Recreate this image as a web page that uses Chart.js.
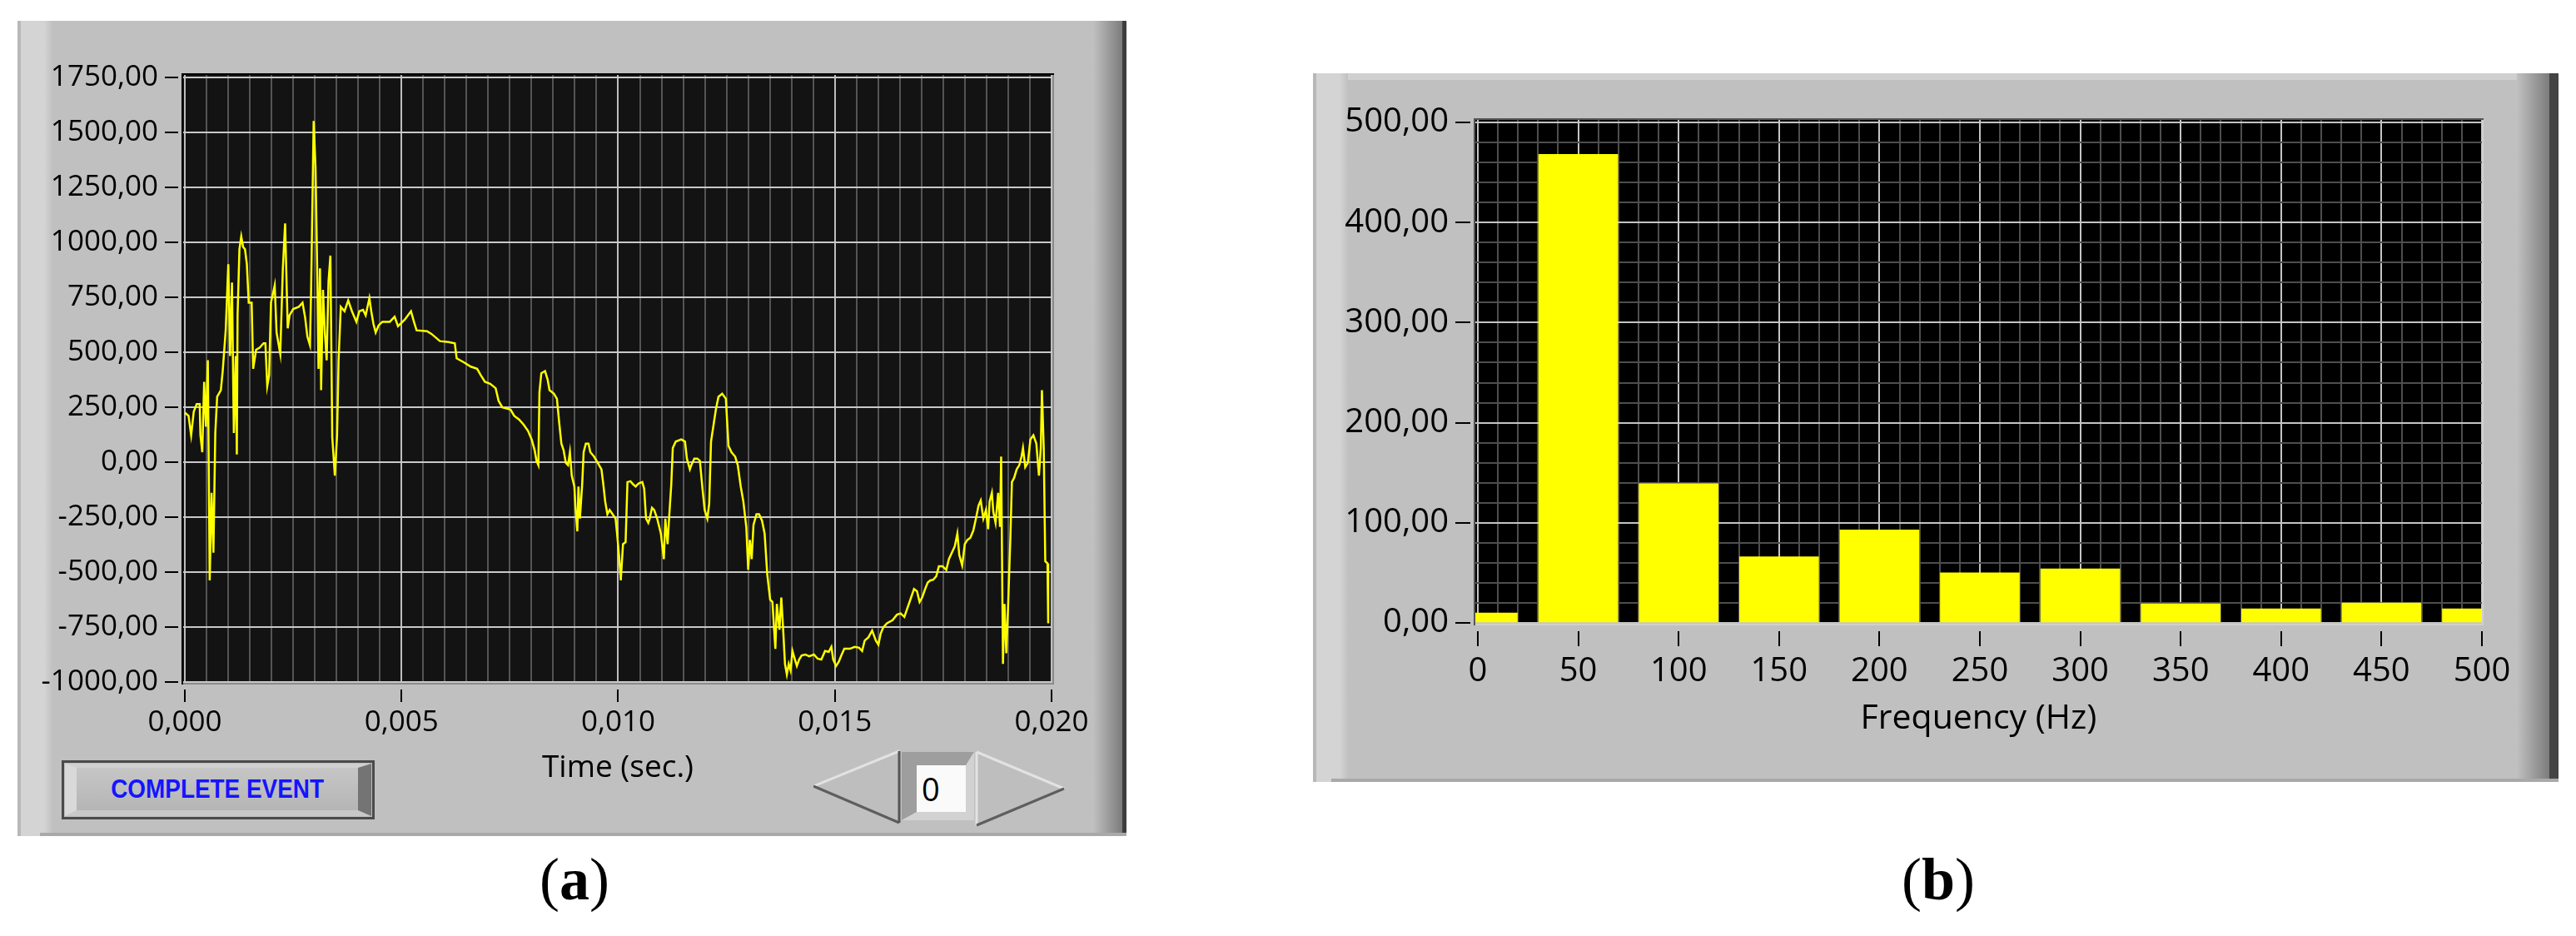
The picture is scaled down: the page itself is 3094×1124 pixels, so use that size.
<!DOCTYPE html>
<html>
<head>
<meta charset="utf-8">
<title>Event waveform and spectrum</title>
<script src="https://cdn.jsdelivr.net/npm/chart.js@4.4.1/dist/chart.umd.min.js"></script>
<style>
  html, body { margin: 0; padding: 0; background: #fff; }
  body { position: relative; width: 3094px; height: 1124px; overflow: hidden; font-family: "Open Sans", sans-serif; }
  .panel { position: absolute; background: #c0c0c0; }
  .panel canvas { position: absolute; left: 0; top: 0; }
  .bevel-l { position: absolute; left: 0; top: 0; bottom: 0; width: 42px;
    background: linear-gradient(to right, #b8b8b8 0, #b8b8b8 4px, #d4d4d4 4px, #d4d4d4 32px, #c1c1c1 42px); }
  .bevel-b { position: absolute; right: 0; bottom: 0; height: 4px; background: #a9a9a9; }
  .bevel-t { position: absolute; left: 0; top: 0; height: 8px; background: #d0d0d0; }
  #panelA .bevel-r { position: absolute; right: 0; top: 0; bottom: 0; width: 40px;
    background: linear-gradient(to right, #c0c0c0 0, #7c7c7c 35px, #3e3e3e 35px, #3e3e3e 40px); }
  #panelB .bevel-r { position: absolute; right: 0; top: 0; bottom: 0; width: 50px;
    background: linear-gradient(to right, #c0c0c0 0, #7c7c7c 39px, #444 39px, #444 50px); }
  .button { position: absolute; left: 53px; top: 888px; width: 376px; height: 71px; box-sizing: border-box;
    border: 3px solid #4a4a4a; background: #bdbdbd; }
  .button .face { position: absolute; left: 1px; top: 1px; right: 1px; bottom: 1px;
    border-style: solid; border-width: 5px 16px 7px 14px; border-color: #d0d0d0 #747474 #c8c8c8 #d9d9d9;
    background: linear-gradient(#c6c6c6, #b5b5b5); display: flex; align-items: center; justify-content: center; }
  .button span { color: #1414ff; font-family: "Liberation Sans", sans-serif; font-weight: bold; font-size: 31px;
    transform: scaleX(0.9); white-space: nowrap; }
  .stepper { position: absolute; left: 956px; top: 875px; }
  .caption { position: absolute; top: 1020px; font-family: "Liberation Serif", "Times New Roman", serif;
    font-size: 72px; line-height: 1; transform: translateX(-50%); white-space: nowrap; color: #000; }
</style>
</head>
<body>

<div class="panel" id="panelA" style="left:21px;top:25px;width:1332px;height:979px">
  <div class="bevel-l"></div>
  <div class="bevel-r"></div>
  <div class="bevel-b" style="left:27px"></div>
  <canvas id="timeChart" width="1332" height="979"></canvas>
  <div class="button"><div class="face"><span>COMPLETE EVENT</span></div></div>
  <svg class="stepper" width="305" height="95" viewBox="0 0 305 95">
    <polygon points="0,44 103,2 103,88" fill="#bebebe"/>
    <polyline points="0,44 103,2" fill="none" stroke="#e2e2e2" stroke-width="3"/>
    <polyline points="0,44 103,88" fill="none" stroke="#5e5e5e" stroke-width="3"/>
    <line x1="103" y1="2" x2="103" y2="88" stroke="#555" stroke-width="3"/>
    <rect x="106" y="3" width="87" height="82" fill="#b6b6b6"/>
    <polygon points="106,3 193,3 183,19 124,19 124,75 106,85" fill="#9e9e9e"/>
    <polygon points="193,3 193,85 106,85 124,75 183,75 183,19" fill="#d2d2d2"/>
    <rect x="124" y="19" width="59" height="56" fill="#fafafa"/>
    <text x="130" y="62" font-family="Open Sans, sans-serif" font-size="38" fill="#000">0</text>
    <polygon points="196,3 196,91 301,47" fill="#bebebe"/>
    <line x1="196" y1="3" x2="196" y2="91" stroke="#e2e2e2" stroke-width="3"/>
    <polyline points="196,3 301,47" fill="none" stroke="#e2e2e2" stroke-width="3"/>
    <polyline points="196,91 301,47" fill="none" stroke="#5e5e5e" stroke-width="3"/>
  </svg>
</div>

<div class="panel" id="panelB" style="left:1577px;top:88px;width:1496px;height:851px">
  <div class="bevel-t" style="width:1466px"></div>
  <div class="bevel-l"></div>
  <div class="bevel-r"></div>
  <div class="bevel-b" style="left:22px"></div>
  <canvas id="freqChart" width="1496" height="851"></canvas>
</div>

<div class="caption" style="left:690px">(<b>a</b>)</div>
<div class="caption" style="left:2328px">(<b>b</b>)</div>

<script>
// (a) recorded event: sample time in ms, amplitude
const timeMs = [
  0.000, 0.086, 0.146, 0.206, 0.274, 0.343, 0.360, 0.403, 0.446, 0.488,
  0.531, 0.574, 0.617, 0.660, 0.703, 0.746, 0.831, 0.874, 0.943, 1.003,
  1.045, 1.088, 1.131, 1.174, 1.200, 1.217, 1.260, 1.302, 1.345, 1.388,
  1.431, 1.474, 1.542, 1.577, 1.645, 1.731, 1.817, 1.859, 1.902, 1.945,
  1.988, 2.074, 2.117, 2.202, 2.262, 2.314, 2.374, 2.416, 2.502, 2.631,
  2.716, 2.776, 2.828, 2.888, 2.913, 2.973, 3.016, 3.059, 3.085, 3.119,
  3.145, 3.188, 3.231, 3.273, 3.316, 3.359, 3.402, 3.462, 3.513, 3.548,
  3.599, 3.685, 3.770, 3.856, 3.959, 4.027, 4.113, 4.173, 4.259, 4.302,
  4.353, 4.404, 4.473, 4.559, 4.730, 4.841, 4.919, 5.073, 5.219, 5.287,
  5.347, 5.587, 5.690, 5.887, 6.084, 6.230, 6.272, 6.444, 6.598, 6.744,
  6.830, 6.924, 7.044, 7.172, 7.241, 7.326, 7.515, 7.601, 7.712, 7.815,
  7.918, 8.003, 8.072, 8.115, 8.158, 8.183, 8.226, 8.312, 8.372, 8.415,
  8.518, 8.586, 8.638, 8.689, 8.740, 8.792, 8.843, 8.886, 8.929, 8.989,
  9.015, 9.057, 9.083, 9.117, 9.169, 9.203, 9.254, 9.314, 9.357, 9.443,
  9.529, 9.614, 9.657, 9.700, 9.751, 9.803, 9.871, 9.940, 9.974, 10.026,
  10.060, 10.111, 10.171, 10.214, 10.283, 10.343, 10.403, 10.471, 10.557, 10.600,
  10.643, 10.694, 10.728, 10.780, 10.831, 10.900, 10.985, 11.054, 11.088, 11.140,
  11.174, 11.225, 11.260, 11.328, 11.457, 11.542, 11.585, 11.654, 11.688, 11.757,
  11.825, 11.885, 11.945, 11.996, 12.057, 12.100, 12.142, 12.202, 12.254, 12.314,
  12.399, 12.485, 12.545, 12.614, 12.699, 12.759, 12.828, 12.888, 12.956, 13.000,
  13.037, 13.080, 13.122, 13.191, 13.251, 13.319, 13.379, 13.439, 13.507, 13.559,
  13.593, 13.627, 13.661, 13.721, 13.764, 13.807, 13.849, 13.892, 13.935, 13.978,
  14.021, 14.063, 14.123, 14.175, 14.234, 14.320, 14.405, 14.517, 14.602, 14.688,
  14.773, 14.859, 14.919, 14.962, 15.030, 15.090, 15.150, 15.218, 15.346, 15.458,
  15.560, 15.629, 15.689, 15.774, 15.860, 15.945, 16.005, 16.056, 16.116, 16.202,
  16.330, 16.433, 16.518, 16.604, 16.672, 16.741, 16.826, 16.895, 16.955, 17.014,
  17.083, 17.143, 17.203, 17.271, 17.340, 17.400, 17.485, 17.571, 17.631, 17.699,
  17.767, 17.827, 17.870, 17.938, 17.998, 18.058, 18.127, 18.195, 18.255, 18.315,
  18.366, 18.426, 18.486, 18.537, 18.571, 18.623, 18.657, 18.708, 18.768, 18.811,
  18.837, 18.879, 18.914, 18.956, 18.999, 19.050, 19.085, 19.136, 19.196, 19.256,
  19.307, 19.341, 19.393, 19.453, 19.512, 19.581, 19.649, 19.709, 19.752, 19.778,
  19.820, 19.855, 19.906, 19.923
];
const amplitude = [
  225, 210, 122, 229, 264, 264, 122, 45, 365, 161,
  463, -538, -140, -412, 132, 297, 327, 414, 599, 900,
  482, 816, 132, 482, 35, 667, 968, 1026, 978, 968,
  900, 725, 725, 424, 511, 521, 540, 540, 346, 395,
  725, 803, 589, 492, 881, 1085, 608, 667, 696, 706,
  725, 657, 570, 531, 774, 1551, 1337, 822, 424, 881,
  327, 783, 589, 463, 822, 939, 113, -62, 122, 463,
  706, 686, 735, 686, 638, 686, 692, 667, 745, 686,
  628, 589, 622, 638, 638, 661, 618, 647, 686, 638,
  599, 595, 583, 550, 546, 540, 472, 453, 434, 424,
  395, 365, 356, 336, 278, 249, 239, 210, 194, 171,
  142, 103, 54, 6, -14, 317, 404, 414, 375, 327,
  311, 288, 181, 84, 54, -4, -14, 45, -62, -111,
  -208, -315, -111, -257, -101, 45, 84, 84, 45, 25,
  -4, -33, -101, -179, -237, -218, -237, -257, -325, -441,
  -538, -373, -364, -91, -87, -101, -111, -97, -91, -121,
  -257, -276, -257, -208, -218, -257, -325, -441, -257, -373,
  -257, -101, 64, 93, 103, 93, 16, -33, -14, 16,
  16, 6, -121, -218, -257, -189, 93, 171, 239, 297,
  311, 288, 74, 45, 25, -14, -111, -179, -295, -490,
  -354, -441, -286, -237, -237, -266, -325, -509, -626, -636,
  -743, -849, -645, -762, -616, -762, -918, -966, -918, -947,
  -859, -888, -927, -898, -879, -875, -883, -875, -894, -898,
  -859, -863, -840, -898, -927, -908, -879, -849, -849, -840,
  -844, -859, -811, -797, -766, -811, -830, -781, -752, -733,
  -719, -694, -688, -704, -665, -626, -577, -587, -636, -616,
  -577, -548, -538, -535, -519, -474, -474, -490, -441, -412,
  -383, -325, -422, -470, -373, -354, -344, -311, -257, -198,
  -175, -257, -218, -305, -179, -140, -227, -276, -140, -295,
  25, -918, -645, -869, -645, -344, -91, -72, -33, -14,
  25, 64, -23, -4, 103, 122, 84, -62, 64, 327,
  64, -451, -461, -733
];

// (b) spectrum
const freqHz = [0, 50, 100, 150, 200, 250, 300, 350, 400, 450, 500];
const magnitude = [10, 468, 139, 66, 93, 50, 54, 19, 14, 20, 14];

// labelled ticks and the finer grid step of each axis
const timeTicks = [0, 0.005, 0.010, 0.015, 0.020];
const ampTicks = [-1000, -750, -500, -250, 0, 250, 500, 750, 1000, 1250, 1500, 1750];
const freqTicks = [0, 50, 100, 150, 200, 250, 300, 350, 400, 450, 500];
const magTicks = [0, 100, 200, 300, 400, 500];
const timeMinor = 0.0005, freqMinor = 10, magMinor = 20;

// axis ranges, padded a little past the outer ticks like the LabVIEW frame
const timeRange = [-0.0000768, 0.0200576];
const ampRange = [-1011.4, 1767.8];
const freqRange = [-2.07, 500.83];
const magRange = [-2.49, 504.15];

const comma = (v, d) => v.toFixed(d).replace('.', ',');
const isLabelled = (v, list) => list.some(t => Math.abs(t - v) < 1e-9);

// tick objects: every minor step between the first and last labelled tick
function gridTicks(list, minor) {
  const out = [];
  const n = Math.round((list[list.length - 1] - list[0]) / minor);
  for (let k = 0; k <= n; k++) out.push({ value: +(list[0] + k * minor).toFixed(6) });
  return out;
}

// dark plot background, sunken frame and the detached tick marks
const plotFrame = {
  id: 'plotFrame',
  beforeDraw(chart, args, o) {
    const { ctx, chartArea: a } = chart;
    ctx.save();
    ctx.fillStyle = o.bg;
    ctx.fillRect(a.left, a.top, a.width, a.height);
    ctx.restore();
  },
  afterDatasetsDraw(chart, args, o) {
    const { ctx, chartArea: a } = chart;
    const xs = chart.scales.x, ys = chart.scales.y;
    ctx.save();
    ctx.lineWidth = 2;
    ctx.strokeStyle = o.light;
    ctx.beginPath();
    ctx.moveTo(a.left, a.bottom - 1);
    ctx.lineTo(a.right - 1, a.bottom - 1);
    ctx.lineTo(a.right - 1, a.top);
    ctx.stroke();
    ctx.strokeStyle = o.dark;
    ctx.beginPath();
    ctx.moveTo(a.left + 1, a.bottom);
    ctx.lineTo(a.left + 1, a.top + 1);
    ctx.lineTo(a.right, a.top + 1);
    ctx.stroke();

    ctx.strokeStyle = '#000';
    ctx.beginPath();
    xs.ticks.forEach(t => {
      if (!t.label) return;
      const px = Math.round(xs.getPixelForValue(t.value));
      ctx.moveTo(px, a.bottom + o.xGap);
      ctx.lineTo(px, a.bottom + o.xGap + o.xLen);
    });
    ys.ticks.forEach(t => {
      if (!t.label) return;
      const py = Math.round(ys.getPixelForValue(t.value));
      ctx.moveTo(a.left - o.yGap - o.yLen, py);
      ctx.lineTo(a.left - o.yGap, py);
    });
    ctx.stroke();
    ctx.restore();
  }
};

const tickFont = size => ({ family: 'Open Sans', size: size });

new Chart(document.getElementById('timeChart'), {
  type: 'line',
  data: {
    datasets: [{
      data: timeMs.map((t, i) => ({ x: t / 1000, y: amplitude[i] })),
      borderColor: '#ffff00',
      borderWidth: 2.5,
      pointRadius: 0,
      tension: 0,
    }],
  },
  options: {
    responsive: false,
    animation: false,
    layout: { padding: { left: 0, top: 63, right: 87, bottom: 0 } },
    plugins: {
      legend: { display: false },
      tooltip: { enabled: false },
      plotFrame: { bg: '#131313', dark: '#000', light: '#8a8a8a', xGap: 6, xLen: 15, yGap: 4, yLen: 16 },
    },
    scales: {
      x: {
        type: 'linear',
        min: timeRange[0],
        max: timeRange[1],
        afterBuildTicks: s => { s.ticks = gridTicks(timeTicks, timeMinor); },
        afterFit: s => { s.height = 182; },
        border: { display: false },
        grid: {
          drawTicks: false,
          lineWidth: 2,
          color: c => isLabelled(c.tick.value, timeTicks) ? '#bdbdbd' : '#545454',
        },
        ticks: {
          autoSkip: false,
          maxRotation: 0,
          padding: 25,
          color: '#000',
          font: tickFont(35),
          callback: v => isLabelled(v, timeTicks) ? comma(v, 3) : '',
        },
        title: { display: true, text: 'Time (sec.)', color: '#000', font: tickFont(37), padding: { top: 0, bottom: 59 } },
      },
      y: {
        min: ampRange[0],
        max: ampRange[1],
        afterBuildTicks: s => { s.ticks = ampTicks.map(v => ({ value: v })); },
        afterFit: s => { s.width = 197; },
        border: { display: false },
        grid: { drawTicks: false, lineWidth: 2, color: '#c9c9c9' },
        ticks: {
          autoSkip: false,
          padding: 28,
          color: '#000',
          font: tickFont(35),
          callback: v => comma(v, 2),
        },
      },
    },
  },
  plugins: [plotFrame],
});

new Chart(document.getElementById('freqChart'), {
  type: 'bar',
  data: {
    datasets: [{
      data: freqHz.map((f, i) => ({ x: f, y: magnitude[i] })),
      backgroundColor: '#ffff00',
      borderWidth: 0,
      barThickness: 95,
      clip: 0,
    }],
  },
  options: {
    responsive: false,
    animation: false,
    layout: { padding: { left: 0, top: 53, right: 90, bottom: 0 } },
    plugins: {
      legend: { display: false },
      tooltip: { enabled: false },
      plotFrame: { bg: '#000', dark: '#555', light: '#d0d0d0', xGap: 7, xLen: 18, yGap: 4, yLen: 18 },
    },
    scales: {
      x: {
        type: 'linear',
        offset: false,
        min: freqRange[0],
        max: freqRange[1],
        afterBuildTicks: s => { s.ticks = gridTicks(freqTicks, freqMinor); },
        afterFit: s => { s.height = 188; },
        border: { display: false },
        grid: {
          offset: false,
          drawTicks: false,
          lineWidth: 2,
          color: c => isLabelled(c.tick.value, freqTicks) ? '#c4c4c4' : '#4e4e4e',
        },
        ticks: {
          autoSkip: false,
          maxRotation: 0,
          padding: 32,
          color: '#000',
          font: tickFont(40),
          callback: v => isLabelled(v, freqTicks) ? String(Math.round(v)) : '',
        },
        title: { display: true, text: 'Frequency (Hz)', color: '#000', font: tickFont(41), padding: { top: 0, bottom: 51 } },
      },
      y: {
        min: magRange[0],
        max: magRange[1],
        afterBuildTicks: s => { s.ticks = gridTicks(magTicks, magMinor); },
        afterFit: s => { s.width = 193; },
        border: { display: false },
        grid: {
          drawTicks: false,
          lineWidth: 2,
          color: c => isLabelled(c.tick.value, magTicks) ? '#c4c4c4' : '#4e4e4e',
        },
        ticks: {
          autoSkip: false,
          padding: 30,
          color: '#000',
          font: tickFont(40),
          callback: v => isLabelled(v, magTicks) ? comma(v, 2) : '',
        },
      },
    },
  },
  plugins: [plotFrame],
});
</script>
</body>
</html>
